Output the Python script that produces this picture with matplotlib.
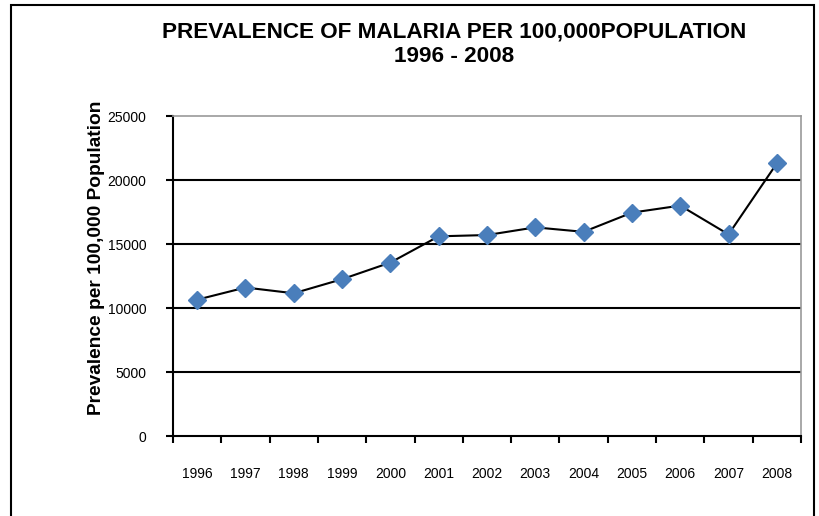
import matplotlib.pyplot as plt
import matplotlib.patches as patches
from matplotlib.ticker import FixedLocator

years = ['1996', '1997', '1998', '1999', '2000', '2001', '2002',
         '2003', '2004', '2005', '2006', '2007', '2008']
prevalence = [10650, 11600, 11150, 12250, 13550, 15600, 15700,
              16300, 15950, 17450, 18000, 15750, 21300]
y_ticks = [0, 5000, 10000, 15000, 20000, 25000]

plt.rcParams['font.family'] = ['Liberation Sans', 'DejaVu Sans']

fig = plt.figure(figsize=(8.2, 5.16), dpi=100)
ax = fig.add_axes([173 / 820, 1 - 436 / 516, 628 / 820, 320 / 516])

# outer chart border (runs off the bottom of the picture)
fig.patches.append(patches.Rectangle((11 / 820, -0.1), 803 / 820, 1.1 - 5 / 516,
                                     transform=fig.transFigure, fill=False,
                                     edgecolor='black', linewidth=1.5))

x = list(range(len(years)))
ax.plot(x, prevalence, color='black', linewidth=1.5, zorder=3)
ax.plot(x, prevalence, linestyle='none', marker='D', markersize=9,
        color='#4a7ebb', markeredgecolor='#4a7ebb', zorder=4)

ax.set_xlim(-0.5, len(years) - 0.5)
ax.set_ylim(0, 25000)
ax.set_yticks(y_ticks)
ax.set_yticklabels([str(v) for v in y_ticks], fontsize=10)
ax.set_xticks(x)
ax.set_xticklabels(years, fontsize=10)
ax.xaxis.set_minor_locator(FixedLocator([i - 0.5 for i in range(len(years) + 1)]))
ax.tick_params(axis='x', which='major', length=0, pad=22)
ax.tick_params(axis='x', which='minor', length=5, width=1.5, direction='out')
ax.tick_params(axis='y', length=5, width=1.5, direction='out', pad=14)

for v in y_ticks[1:-1]:
    ax.axhline(v, color='black', linewidth=1.5, zorder=1)

for side in ['top', 'right']:
    ax.spines[side].set_color('#999999')
    ax.spines[side].set_linewidth(1.2)
for side in ['left', 'bottom']:
    ax.spines[side].set_color('black')
    ax.spines[side].set_linewidth(1.5)

ax.set_ylabel('Prevalence per 100,000 Population', fontsize=13.8, fontweight='bold')
ax.yaxis.set_label_coords(-0.108, 0.556)

fig.text(454 / 820, 1 - 32 / 516, 'PREVALENCE OF MALARIA PER 100,000POPULATION',
         ha='center', va='center', fontsize=16.2, fontweight='bold')
fig.text(454 / 820, 1 - 56 / 516, '1996 - 2008',
         ha='center', va='center', fontsize=16.2, fontweight='bold')

fig.savefig('out.png', dpi=100)
